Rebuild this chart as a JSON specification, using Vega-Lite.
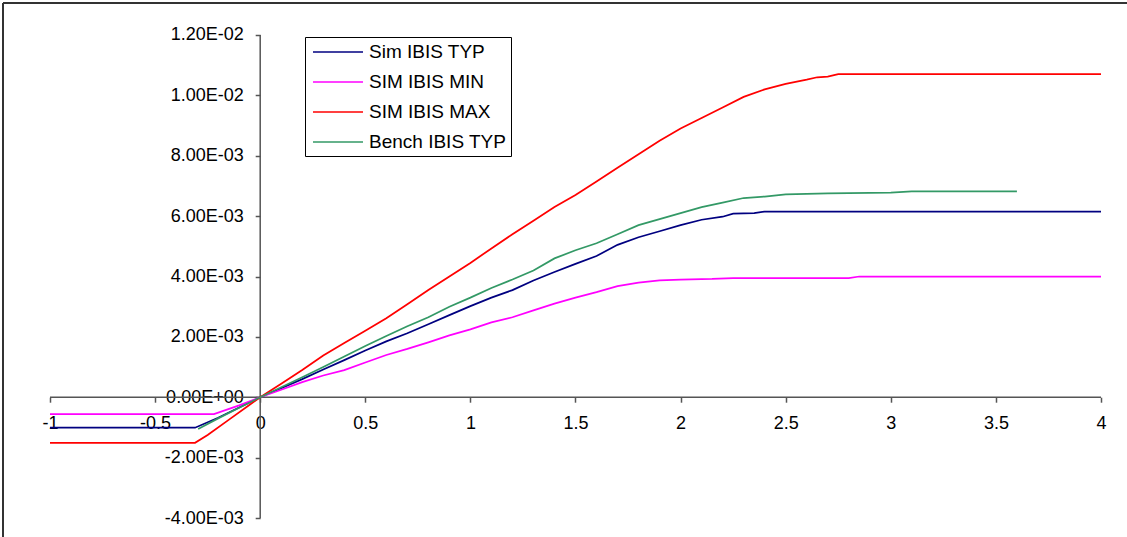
{
  "$schema": "https://vega.github.io/schema/vega-lite/v6.json",
  "width": 1124,
  "height": 534,
  "autosize": {"type": "none"},
  "padding": {"left": 3, "top": 3, "right": 0, "bottom": 0},
  "background": "white",
  "config": {
    "font": "Liberation Sans",
    "view": {"stroke": null}
  },
  "datasets": {
    "frame": [
      {"x1": -1.2236, "x2": -1.2236, "y1": -0.004629, "y2": 0.01306},
      {"x1": -1.2236, "x2": 4.1237, "y1": 0.01306, "y2": 0.01306}
    ],
    "axislines": [
      {"x1": -1, "x2": 4, "y1": 0, "y2": 0},
      {"x1": 0, "x2": 0, "y1": -0.004, "y2": 0.012}
    ],
    "series": [
      {"s": "Sim IBIS TYP", "x": -1, "y": -0.00101},
      {"s": "Sim IBIS TYP", "x": -0.31, "y": -0.00101},
      {"s": "Sim IBIS TYP", "x": -0.2, "y": -0.00068},
      {"s": "Sim IBIS TYP", "x": -0.1, "y": -0.00034},
      {"s": "Sim IBIS TYP", "x": 0, "y": 0},
      {"s": "Sim IBIS TYP", "x": 0.1, "y": 0.0003},
      {"s": "Sim IBIS TYP", "x": 0.2, "y": 0.0006},
      {"s": "Sim IBIS TYP", "x": 0.3, "y": 0.00092},
      {"s": "Sim IBIS TYP", "x": 0.4, "y": 0.00123},
      {"s": "Sim IBIS TYP", "x": 0.5, "y": 0.00155},
      {"s": "Sim IBIS TYP", "x": 0.6, "y": 0.00185},
      {"s": "Sim IBIS TYP", "x": 0.7, "y": 0.00212},
      {"s": "Sim IBIS TYP", "x": 0.8, "y": 0.00242},
      {"s": "Sim IBIS TYP", "x": 0.9, "y": 0.00272},
      {"s": "Sim IBIS TYP", "x": 1.0, "y": 0.00302},
      {"s": "Sim IBIS TYP", "x": 1.1, "y": 0.0033},
      {"s": "Sim IBIS TYP", "x": 1.2, "y": 0.00355},
      {"s": "Sim IBIS TYP", "x": 1.3, "y": 0.00387},
      {"s": "Sim IBIS TYP", "x": 1.4, "y": 0.00415},
      {"s": "Sim IBIS TYP", "x": 1.5, "y": 0.00442},
      {"s": "Sim IBIS TYP", "x": 1.6, "y": 0.00468},
      {"s": "Sim IBIS TYP", "x": 1.7, "y": 0.00505},
      {"s": "Sim IBIS TYP", "x": 1.8, "y": 0.0053},
      {"s": "Sim IBIS TYP", "x": 1.9, "y": 0.0055},
      {"s": "Sim IBIS TYP", "x": 2.0, "y": 0.0057},
      {"s": "Sim IBIS TYP", "x": 2.1, "y": 0.00588},
      {"s": "Sim IBIS TYP", "x": 2.2, "y": 0.00598},
      {"s": "Sim IBIS TYP", "x": 2.25, "y": 0.00608},
      {"s": "Sim IBIS TYP", "x": 2.35, "y": 0.0061},
      {"s": "Sim IBIS TYP", "x": 2.4, "y": 0.00615},
      {"s": "Sim IBIS TYP", "x": 4.0, "y": 0.00615},

      {"s": "SIM IBIS MIN", "x": -1, "y": -0.00056},
      {"s": "SIM IBIS MIN", "x": -0.22, "y": -0.00056},
      {"s": "SIM IBIS MIN", "x": -0.1, "y": -0.00027},
      {"s": "SIM IBIS MIN", "x": 0, "y": 0},
      {"s": "SIM IBIS MIN", "x": 0.1, "y": 0.00025},
      {"s": "SIM IBIS MIN", "x": 0.2, "y": 0.0005},
      {"s": "SIM IBIS MIN", "x": 0.3, "y": 0.00072},
      {"s": "SIM IBIS MIN", "x": 0.4, "y": 0.0009},
      {"s": "SIM IBIS MIN", "x": 0.5, "y": 0.00115},
      {"s": "SIM IBIS MIN", "x": 0.6, "y": 0.0014},
      {"s": "SIM IBIS MIN", "x": 0.7, "y": 0.0016},
      {"s": "SIM IBIS MIN", "x": 0.8, "y": 0.00182},
      {"s": "SIM IBIS MIN", "x": 0.9, "y": 0.00205},
      {"s": "SIM IBIS MIN", "x": 1.0, "y": 0.00225},
      {"s": "SIM IBIS MIN", "x": 1.1, "y": 0.00248},
      {"s": "SIM IBIS MIN", "x": 1.2, "y": 0.00265},
      {"s": "SIM IBIS MIN", "x": 1.3, "y": 0.00288},
      {"s": "SIM IBIS MIN", "x": 1.4, "y": 0.0031},
      {"s": "SIM IBIS MIN", "x": 1.5, "y": 0.0033},
      {"s": "SIM IBIS MIN", "x": 1.6, "y": 0.00348},
      {"s": "SIM IBIS MIN", "x": 1.7, "y": 0.00368},
      {"s": "SIM IBIS MIN", "x": 1.8, "y": 0.0038},
      {"s": "SIM IBIS MIN", "x": 1.9, "y": 0.00387},
      {"s": "SIM IBIS MIN", "x": 2.0, "y": 0.0039},
      {"s": "SIM IBIS MIN", "x": 2.15, "y": 0.00392},
      {"s": "SIM IBIS MIN", "x": 2.25, "y": 0.00395},
      {"s": "SIM IBIS MIN", "x": 2.8, "y": 0.00395},
      {"s": "SIM IBIS MIN", "x": 2.85, "y": 0.004},
      {"s": "SIM IBIS MIN", "x": 4.0, "y": 0.004},

      {"s": "SIM IBIS MAX", "x": -1, "y": -0.00151},
      {"s": "SIM IBIS MAX", "x": -0.31, "y": -0.00151},
      {"s": "SIM IBIS MAX", "x": -0.25, "y": -0.00125},
      {"s": "SIM IBIS MAX", "x": -0.15, "y": -0.00075},
      {"s": "SIM IBIS MAX", "x": -0.05, "y": -0.00025},
      {"s": "SIM IBIS MAX", "x": 0, "y": 0},
      {"s": "SIM IBIS MAX", "x": 0.1, "y": 0.00045},
      {"s": "SIM IBIS MAX", "x": 0.2, "y": 0.0009},
      {"s": "SIM IBIS MAX", "x": 0.3, "y": 0.00138},
      {"s": "SIM IBIS MAX", "x": 0.4, "y": 0.0018},
      {"s": "SIM IBIS MAX", "x": 0.5, "y": 0.0022},
      {"s": "SIM IBIS MAX", "x": 0.6, "y": 0.00262},
      {"s": "SIM IBIS MAX", "x": 0.7, "y": 0.00308},
      {"s": "SIM IBIS MAX", "x": 0.8, "y": 0.00355},
      {"s": "SIM IBIS MAX", "x": 0.9, "y": 0.004},
      {"s": "SIM IBIS MAX", "x": 1.0, "y": 0.00445},
      {"s": "SIM IBIS MAX", "x": 1.1, "y": 0.00493},
      {"s": "SIM IBIS MAX", "x": 1.2, "y": 0.0054},
      {"s": "SIM IBIS MAX", "x": 1.3, "y": 0.00585},
      {"s": "SIM IBIS MAX", "x": 1.4, "y": 0.0063},
      {"s": "SIM IBIS MAX", "x": 1.5, "y": 0.0067},
      {"s": "SIM IBIS MAX", "x": 1.6, "y": 0.00715},
      {"s": "SIM IBIS MAX", "x": 1.7, "y": 0.0076},
      {"s": "SIM IBIS MAX", "x": 1.8, "y": 0.00805},
      {"s": "SIM IBIS MAX", "x": 1.9, "y": 0.0085},
      {"s": "SIM IBIS MAX", "x": 2.0, "y": 0.0089},
      {"s": "SIM IBIS MAX", "x": 2.1, "y": 0.00925},
      {"s": "SIM IBIS MAX", "x": 2.2, "y": 0.0096},
      {"s": "SIM IBIS MAX", "x": 2.3, "y": 0.00995},
      {"s": "SIM IBIS MAX", "x": 2.4, "y": 0.0102},
      {"s": "SIM IBIS MAX", "x": 2.5, "y": 0.01038},
      {"s": "SIM IBIS MAX", "x": 2.6, "y": 0.01052},
      {"s": "SIM IBIS MAX", "x": 2.65, "y": 0.0106},
      {"s": "SIM IBIS MAX", "x": 2.7, "y": 0.01062},
      {"s": "SIM IBIS MAX", "x": 2.75, "y": 0.0107},
      {"s": "SIM IBIS MAX", "x": 4.0, "y": 0.0107},

      {"s": "Bench IBIS TYP", "x": -0.295, "y": -0.00105},
      {"s": "Bench IBIS TYP", "x": -0.2, "y": -0.0007},
      {"s": "Bench IBIS TYP", "x": -0.1, "y": -0.00035},
      {"s": "Bench IBIS TYP", "x": 0, "y": 0},
      {"s": "Bench IBIS TYP", "x": 0.1, "y": 0.00033},
      {"s": "Bench IBIS TYP", "x": 0.2, "y": 0.00066},
      {"s": "Bench IBIS TYP", "x": 0.3, "y": 0.001},
      {"s": "Bench IBIS TYP", "x": 0.4, "y": 0.00135},
      {"s": "Bench IBIS TYP", "x": 0.5, "y": 0.0017},
      {"s": "Bench IBIS TYP", "x": 0.6, "y": 0.00203},
      {"s": "Bench IBIS TYP", "x": 0.7, "y": 0.00235},
      {"s": "Bench IBIS TYP", "x": 0.8, "y": 0.00265},
      {"s": "Bench IBIS TYP", "x": 0.9, "y": 0.003},
      {"s": "Bench IBIS TYP", "x": 1.0, "y": 0.0033},
      {"s": "Bench IBIS TYP", "x": 1.1, "y": 0.00362},
      {"s": "Bench IBIS TYP", "x": 1.2, "y": 0.0039},
      {"s": "Bench IBIS TYP", "x": 1.3, "y": 0.0042},
      {"s": "Bench IBIS TYP", "x": 1.4, "y": 0.0046},
      {"s": "Bench IBIS TYP", "x": 1.5, "y": 0.00487},
      {"s": "Bench IBIS TYP", "x": 1.6, "y": 0.0051},
      {"s": "Bench IBIS TYP", "x": 1.7, "y": 0.0054},
      {"s": "Bench IBIS TYP", "x": 1.8, "y": 0.0057},
      {"s": "Bench IBIS TYP", "x": 1.9, "y": 0.0059},
      {"s": "Bench IBIS TYP", "x": 2.0, "y": 0.0061},
      {"s": "Bench IBIS TYP", "x": 2.1, "y": 0.0063},
      {"s": "Bench IBIS TYP", "x": 2.2, "y": 0.00645},
      {"s": "Bench IBIS TYP", "x": 2.3, "y": 0.0066},
      {"s": "Bench IBIS TYP", "x": 2.4, "y": 0.00665},
      {"s": "Bench IBIS TYP", "x": 2.5, "y": 0.00672},
      {"s": "Bench IBIS TYP", "x": 2.7, "y": 0.00675},
      {"s": "Bench IBIS TYP", "x": 3.0, "y": 0.00678},
      {"s": "Bench IBIS TYP", "x": 3.1, "y": 0.00682},
      {"s": "Bench IBIS TYP", "x": 3.6, "y": 0.00682}
    ]
  },
  "layer": [
    {
      "data": {"name": "frame"},
      "mark": {"type": "rule", "color": "#333333", "strokeWidth": 2},
      "encoding": {
        "x": {"field": "x1", "type": "quantitative", "title": null},
        "x2": {"field": "x2"},
        "y": {"field": "y1", "type": "quantitative", "title": null},
        "y2": {"field": "y2"}
      }
    },
    {
      "data": {"name": "axislines"},
      "mark": {"type": "rule", "color": "#555555", "strokeWidth": 1.5},
      "encoding": {
        "x": {
          "field": "x1", "type": "quantitative", "title": null,
          "scale": {"domain": [-1.2236, 4.1237], "nice": false, "zero": false},
          "axis": {
            "orient": "bottom", "offset": -139.8, "domain": false, "grid": false,
            "values": [-1, -0.5, 0, 0.5, 1, 1.5, 2, 2.5, 3, 3.5, 4],
            "tickSize": 5, "tickColor": "#555555", "tickWidth": 1.5,
            "labelFontSize": 18, "labelPadding": 12, "labelColor": "black",
            "labelOverlap": false, "labelFlush": false,
            "labelExpr": "replace(format(datum.value, '~g'), '\u2212', '-')"
          }
        },
        "x2": {"field": "x2"},
        "y": {
          "field": "y1", "type": "quantitative", "title": null,
          "scale": {"domain": [-0.004629, 0.01306], "nice": false, "zero": false},
          "axis": {
            "orient": "left", "offset": -257.2, "domain": false, "grid": false,
            "values": [-0.004, -0.002, 0, 0.002, 0.004, 0.006, 0.008, 0.01, 0.012],
            "tickSize": 5, "tickColor": "#555555", "tickWidth": 1.5,
            "labelFontSize": 18, "labelPadding": 12, "labelColor": "black",
            "labelOverlap": false, "labelFlush": false,
            "labelExpr": "replace(replace(replace(upper(format(datum.value, '.2e')), '\u2212', '-'), 'E-', 'E-0'), 'E+', 'E+0')"
          }
        },
        "y2": {"field": "y2"}
      }
    },
    {
      "data": {"name": "series"},
      "mark": {"type": "line", "strokeWidth": 1.75},
      "encoding": {
        "x": {"field": "x", "type": "quantitative", "title": null},
        "y": {"field": "y", "type": "quantitative", "title": null},
        "color": {
          "field": "s", "type": "nominal",
          "scale": {
            "domain": ["Sim IBIS TYP", "SIM IBIS MIN", "SIM IBIS MAX", "Bench IBIS TYP"],
            "range": ["#000080", "#FF00FF", "#FF0000", "#339966"]
          },
          "legend": {
            "orient": "none", "legendX": 302, "legendY": 34, "title": null,
            "symbolType": "M-2.5,0H2.5", "symbolSize": 400, "symbolStrokeWidth": 1.5,
            "symbolOffset": 18,
            "labelFontSize": 19, "labelOffset": 20, "labelColor": "black", "labelLimit": 400,
            "rowPadding": 9, "padding": 4,
            "strokeColor": "black", "fillColor": "white"
          }
        }
      }
    }
  ]
}
